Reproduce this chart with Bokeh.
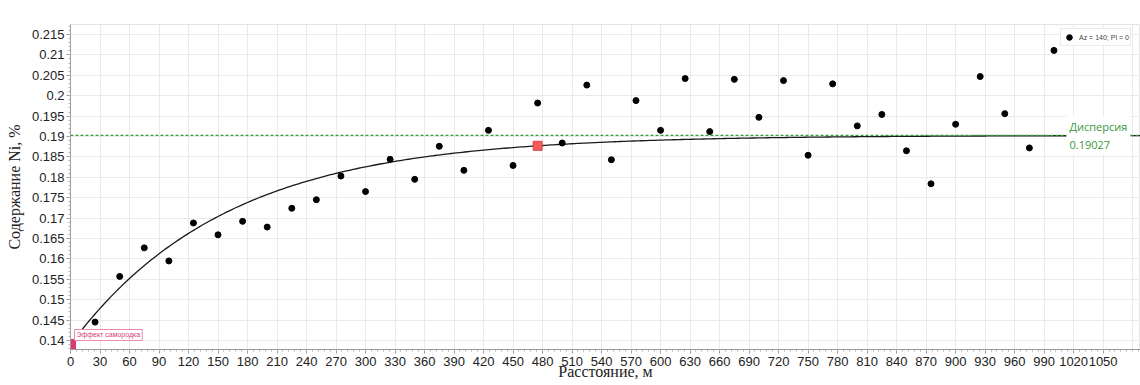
import numpy as np
from bokeh.plotting import figure
from bokeh.models import (Range1d, FixedTicker, Span, Label, Legend, LegendItem,
                          ColumnDataSource)
from bokeh.embed import file_html
from bokeh.resources import INLINE

# ---------------- data ----------------
lag_m = [25, 50, 75, 100, 125, 150, 175, 200, 225, 250,
         275, 300, 325, 350, 375, 400, 425, 450, 475, 500,
         525, 550, 575, 600, 625, 650, 675, 700, 725, 750,
         775, 800, 825, 850, 875, 900, 925, 950, 975, 1000]
gamma = [0.1445, 0.1557, 0.1627, 0.1595, 0.1688, 0.1659, 0.1692, 0.1678, 0.1724, 0.1745,
         0.1803, 0.1765, 0.1844, 0.1795, 0.1876, 0.1817, 0.1915, 0.1829, 0.1982, 0.1884,
         0.2026, 0.1843, 0.1988, 0.1915, 0.2042, 0.1912, 0.2040, 0.1947, 0.2037, 0.1854,
         0.2029, 0.1926, 0.1954, 0.1865, 0.1784, 0.1930, 0.2047, 0.1956, 0.1872, 0.2111]

NUGGET = 0.13902      # Эффект самородка
SILL = 0.19027        # Дисперсия
RANGE_M = 475         # range of the exponential model

x_ticks = list(range(0, 1051, 30))
y_ticks = [0.14, 0.145, 0.15, 0.155, 0.16, 0.165, 0.17, 0.175, 0.18, 0.185,
           0.19, 0.195, 0.2, 0.205, 0.21, 0.215]
y_tick_labels = ["0.14", "0.145", "0.15", "0.155", "0.16", "0.165", "0.17", "0.175",
                 "0.18", "0.185", "0.19", "0.195", "0.2", "0.205", "0.21", "0.215"]
legend_label = "Az = 140; Pl = 0"

X_MAX = 1088
Y_MIN, Y_MAX = 0.13779, 0.21745

# ---------------- figure ----------------
p = figure(width=1140, height=385, output_backend="svg", toolbar_location=None,
           x_range=Range1d(0, X_MAX), y_range=Range1d(Y_MIN, Y_MAX),
           min_border_left=70, min_border_right=0, min_border_top=24,
           min_border_bottom=36)
p.outline_line_color = "#e4e4e4"
p.background_fill_color = "white"

# grid
p.xgrid.ticker = FixedTicker(ticks=x_ticks + [1080])
p.ygrid.ticker = FixedTicker(ticks=y_ticks)
for g in (p.xgrid, p.ygrid):
    g.grid_line_color = "#eaeaea"
    g.grid_line_width = 1

# axes
p.xaxis.ticker = FixedTicker(ticks=x_ticks, minor_ticks=list(range(0, X_MAX, 6)))
p.yaxis.ticker = FixedTicker(ticks=y_ticks,
                             minor_ticks=[0.138 + 0.001 * k for k in range(80)])
p.yaxis.major_label_overrides = dict(zip(y_ticks, y_tick_labels))

for ax in (p.xaxis[0], p.yaxis[0]):
    ax.axis_line_color = "#9a9a9a"
    ax.major_tick_line_color = "#9a9a9a"
    ax.minor_tick_line_color = "#b0b0b0"
    ax.major_tick_in = 0
    ax.major_tick_out = 4
    ax.minor_tick_in = 0
    ax.minor_tick_out = 2
    ax.major_label_text_font = "Liberation Sans"
    ax.major_label_text_font_size = "13px"
    ax.major_label_text_color = "#222222"
    ax.axis_label_text_font = "Liberation Serif"
    ax.axis_label_text_font_size = "16px"
    ax.axis_label_text_font_style = "normal"
    ax.axis_label_text_color = "#222222"

p.xaxis.major_label_standoff = 3
p.yaxis.major_label_standoff = 2
p.xaxis.axis_label = "Расстояние, м"
p.xaxis.axis_label_standoff = -6
p.yaxis.axis_label = "Содержание Ni, %"
p.yaxis.axis_label_standoff = 6

# model curve
h = np.linspace(0, X_MAX, 400)
model = NUGGET + (SILL - NUGGET) * (1 - np.exp(-3 * h / RANGE_M))
p.line(h, model, line_color="#1a1a1a", line_width=1.3)

# experimental points
src = ColumnDataSource(dict(lag=lag_m, gamma=gamma))
r_pts = p.scatter(x="lag", y="gamma", source=src, size=6, color="black")

# sill line
p.add_layout(Span(location=SILL, dimension="width", line_color="#3a9a3a",
                  line_dash="3 2", line_width=1.2))

# range marker
range_val = NUGGET + (SILL - NUGGET) * (1 - np.exp(-3.0))
p.scatter(x=[RANGE_M], y=[range_val], marker="square", size=9,
          fill_color="#f25c5c", line_color="#dc4444")

# nugget marker
p.scatter(x=[0], y=[NUGGET], marker="square", size=10,
          fill_color="#d83a74", line_color="#d83a74")

p.add_layout(Label(x=0, y=NUGGET, x_offset=4, y_offset=4, text="Эффект самородка",
                   text_font="Liberation Sans", text_font_size="7px",
                   text_color="#d8407a", text_baseline="bottom", text_align="left",
                   background_fill_color="white", border_line_color="#e88aad",
                   padding=2))

p.add_layout(Label(x=996, y=SILL, x_units="screen", y_units="data",
                   text="Дисперсия\n0.19027",
                   text_font="Open Sans", text_font_size="11px",
                   text_color="#3a963a", text_baseline="middle", text_align="left",
                   background_fill_color="white", padding=3))

legend = Legend(items=[LegendItem(label=legend_label, renderers=[r_pts])],
                location=(990, 303), padding=1, margin=0, spacing=0,
                glyph_width=14, glyph_height=14, label_height=10,
                label_standoff=3, label_text_font_size="7px",
                label_text_font="Liberation Sans",
                label_text_color="#444444",
                border_line_color="#d6d6d6", background_fill_color="white")
p.add_layout(legend)

open("out.html", "w").write(file_html(p, INLINE))
